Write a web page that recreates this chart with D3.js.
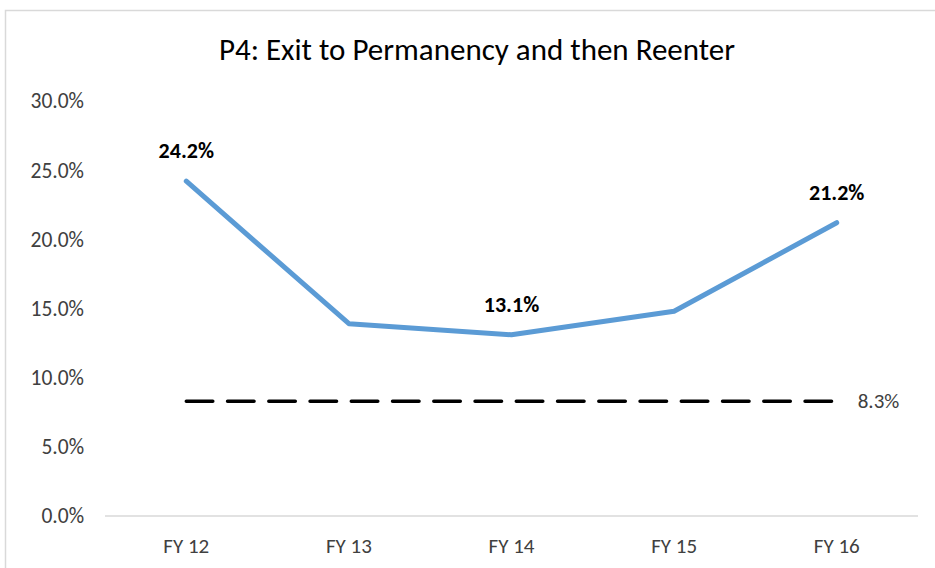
<!DOCTYPE html>
<html><head><meta charset="utf-8">
<script src="https://cdn.jsdelivr.net/npm/d3@7"></script>
<style>body{margin:0;background:#fff;} svg{display:block;}</style>
</head><body>
<script>
const categories = ["FY 12","FY 13","FY 14","FY 15","FY 16"];
const values = [24.2, 13.9, 13.1, 14.8, 21.2];
const labeled = [true, false, true, false, true];
const targetValue = 8.3;
const yTicks = [0,5,10,15,20,25,30];
const title = "P4: Exit to Permanency and then Reenter";

const W = 935, H = 568;
const svg = d3.select("body").append("svg").attr("width", W).attr("height", H);
const font = "Calibri, Carlito, 'Liberation Sans', Arial, sans-serif";

svg.append("rect").attr("x",5.5).attr("y",10.5).attr("width",W+20).attr("height",H+20)
  .attr("fill","#fff").attr("stroke","#d9d9d9").attr("stroke-width",1.5);

const x = d3.scaleBand().domain(categories).range([105, 918]);
const y = d3.scaleLinear().domain([0,30]).range([516, 101]);

svg.append("text").attr("x",477).attr("y",60).attr("text-anchor","middle")
  .attr("font-family",font).attr("font-size",31).attr("fill","#000").text(title);

const yAxis = svg.append("g").attr("transform","translate(105,0)")
  .call(d3.axisLeft(y).tickValues(yTicks).tickFormat(d=>d.toFixed(1)+"%").tickSize(0).tickPadding(21));
yAxis.select(".domain").remove();
yAxis.selectAll("text").attr("font-family",font).attr("font-size",21.5).attr("fill","#404040");

svg.append("line").attr("x1",105).attr("x2",918).attr("y1",y(0)).attr("y2",y(0))
  .attr("stroke","#d9d9d9").attr("stroke-width",1.5);

const xAxis = svg.append("g").attr("transform",`translate(0,${y(0)})`)
  .call(d3.axisBottom(x).tickSize(0).tickPadding(22));
xAxis.select(".domain").remove();
xAxis.selectAll("text").attr("font-family",font).attr("font-size",21).attr("fill","#404040");

const cx = d => x(d) + x.bandwidth()/2;

svg.append("line").attr("x1",cx(categories[0])).attr("x2",cx(categories[categories.length-1]))
  .attr("y1",y(targetValue)).attr("y2",y(targetValue))
  .attr("stroke","#000").attr("stroke-width",3.5).attr("stroke-linecap","round")
  .attr("stroke-dasharray","26.5,14.75");
svg.append("text").attr("x",cx(categories[categories.length-1])+21).attr("y",y(targetValue)+7)
  .attr("font-family",font).attr("font-size",21).attr("fill","#404040").text(targetValue.toFixed(1)+"%");

const pts = categories.map((c,i)=>({c, v: values[i], l: labeled[i]}));
svg.append("path").datum(pts)
  .attr("d", d3.line().x(d=>cx(d.c)).y(d=>y(d.v)))
  .attr("fill","none").attr("stroke","#5b9bd5").attr("stroke-width",5).attr("stroke-linecap","round").attr("stroke-linejoin","round");

svg.selectAll(".lbl").data(pts.filter(d=>d.l)).enter().append("text")
  .attr("x",d=>cx(d.c)).attr("y",d=>y(d.v)-23).attr("text-anchor","middle")
  .attr("font-family",font).attr("font-size",22).attr("font-weight","bold").attr("fill","#000")
  .text(d=>d.v.toFixed(1)+"%");
</script>
</body></html>
